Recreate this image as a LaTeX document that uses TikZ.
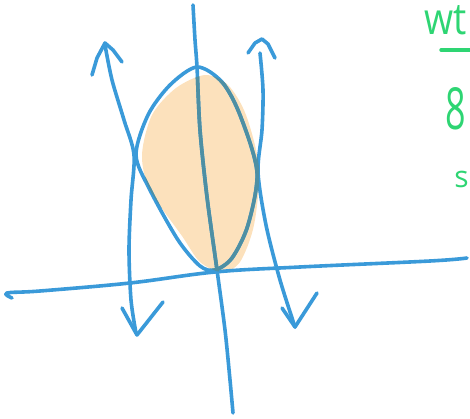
\documentclass[tikz,border=0pt]{standalone}
\usepackage{fontspec}
\setmainfont{Open Sans}
\definecolor{pen}{HTML}{3A9AD9}
\definecolor{penshade}{HTML}{4E8FA3}
\definecolor{regionfill}{HTML}{FCE1BC}
\definecolor{note}{HTML}{2ED573}
\tikzset{
  stroke/.style={draw=pen, line width=3.6pt, line cap=round, line join=round},
  notetext/.style={text=note, inner sep=0pt, anchor=base west},
}
\newcommand{\fillregion}{plot[smooth cycle] coordinates {(205,75) (228,85) (246,115) (259,168) (254,225) (240,262) (222,272) (200,262) (182,236) (150,190) (142,155) (152,115) (176,88)}}
\newcommand{\curvestrokes}[1]{%
\draw[stroke,#1] plot[smooth] coordinates {(193,5) (195,40) (197,67) (200,130) (207,197) (217,270) (225,330) (230,380) (233,413)};
\draw[stroke,#1] plot[smooth] coordinates {(105,45) (112,80) (124,120) (134,155) (131,200) (129,250) (131,300) (136,333)};
\draw[stroke,#1] plot[smooth] coordinates {(260,53) (263,90) (262,130) (258,172) (266,225) (280,280) (295,327)};
\draw[stroke,#1] plot[smooth cycle] coordinates {(197,67) (222,82) (240,115) (257,172) (248,225) (232,258) (215,270) (200,266) (178,240) (150,190) (136,155) (148,115) (170,85)};
}
\begin{document}
\begin{tikzpicture}[x=1pt,y=-1pt]
\useasboundingbox (0,0) rectangle (470,419);
% shaded region
\fill[regionfill] \fillregion;
% axes
\draw[stroke] plot[smooth, tension=0.6] coordinates {(12,298) (7,293) (40,291) (130,283) (215,272) (300,267) (430,261) (467,258)};
% curves, region outline and arrowheads
\curvestrokes{}
\draw[stroke] (92,75) -- (97,58) -- (105,43) -- (113,50) -- (122,62);
\draw[stroke] (122,308) -- (137,335) -- (163,302);
\draw[stroke] (248,53) -- (255,43) -- (262,39) -- (268,44) -- (275,58);
\draw[stroke] (282,308) -- (295,327) -- (317,293);
% strokes seen through the shading
\begin{scope}
\clip \fillregion;
\curvestrokes{draw=penshade}
\end{scope}
% notes
\node[notetext, font=\fontsize{44}{44}\selectfont, xscale=0.85] (w) at (424,35) {wt};
\draw[draw=note, line width=3.4pt, line cap=round] (441,50) -- (475,50);
\node[notetext, font=\fontsize{58}{58}\selectfont, xscale=0.62] (eight) at (445,130) {8};
\node[notetext, font=\fontsize{30}{30}\selectfont, anchor=base east] (s) at (469,188) {s};
\end{tikzpicture}
\end{document}
